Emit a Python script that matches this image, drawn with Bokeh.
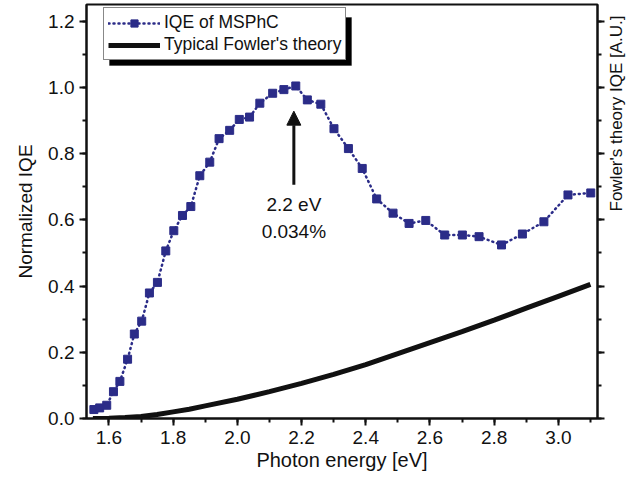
from bokeh.plotting import figure
from bokeh.models import (Range1d, LinearAxis, SingleIntervalTicker, NumeralTickFormatter,
                          Legend, LegendItem, Arrow, NormalHead, Label, CustomLabelingPolicy,
                          BoxAnnotation)
from bokeh.embed import file_html
from bokeh.resources import INLINE

# ---- data ----
energy_iqe = [1.553, 1.571, 1.593, 1.614, 1.634, 1.658, 1.679, 1.702, 1.726, 1.751,
              1.777, 1.802, 1.829, 1.855, 1.883, 1.914, 1.943, 1.976, 2.006, 2.038,
              2.070, 2.110, 2.145, 2.182, 2.218, 2.260, 2.301, 2.346, 2.389, 2.434,
              2.485, 2.535, 2.587, 2.646, 2.701, 2.753, 2.823, 2.888, 2.955, 3.030, 3.101]
iqe = [0.027, 0.032, 0.040, 0.081, 0.112, 0.179, 0.255, 0.294, 0.379, 0.411,
       0.506, 0.567, 0.613, 0.640, 0.733, 0.774, 0.845, 0.870, 0.903, 0.910,
       0.952, 0.982, 0.993, 1.004, 0.962, 0.949, 0.875, 0.815, 0.755, 0.663,
       0.620, 0.589, 0.598, 0.554, 0.554, 0.549, 0.524, 0.557, 0.594, 0.675, 0.681]

energy_fowler = [1.55, 1.60, 1.65, 1.70, 1.75, 1.80, 1.85, 1.90, 2.00, 2.10,
                 2.20, 2.30, 2.40, 2.50, 2.60, 2.70, 2.80, 2.90, 3.00, 3.10]
fowler = [0.000, 0.001, 0.003, 0.006, 0.012, 0.020, 0.028, 0.038, 0.058, 0.081,
          0.106, 0.133, 0.163, 0.196, 0.229, 0.262, 0.297, 0.333, 0.369, 0.405]

series_labels = ["IQE of MSPhC", "Typical Fowler's theory"]
peak_energy = 2.176
arrow_from, arrow_to = 0.706, 0.928
peak_texts = ["2.2 eV", "0.034%"]
peak_text_y = [0.645, 0.564]

FONT = "Liberation Sans"
BLUE = "#2b2c88"
INK = "#111111"

p = figure(width=639, height=480, output_backend="svg", toolbar_location=None,
           x_range=Range1d(1.53, 3.122), y_range=Range1d(0, 1.25),
           min_border_left=86, min_border_right=42, min_border_top=4, min_border_bottom=62,
           x_axis_label="Photon energy [eV]", y_axis_label="Normalized IQE")
p.xgrid.visible = False
p.ygrid.visible = False
p.outline_line_color = INK
p.outline_line_width = 2
p.background_fill_color = "white"
p.border_fill_color = "white"

def style_axis(ax, interval):
    ax.ticker = SingleIntervalTicker(interval=interval, num_minor_ticks=2)
    ax.formatter = NumeralTickFormatter(format="0.0")
    ax.axis_line_width = 2
    ax.axis_line_color = INK
    ax.major_tick_line_width = 2
    ax.minor_tick_line_width = 2
    ax.major_tick_line_color = INK
    ax.minor_tick_line_color = INK
    ax.major_tick_in = 0
    ax.major_tick_out = 7
    ax.minor_tick_in = 0
    ax.minor_tick_out = 4
    ax.major_label_text_font = FONT
    ax.major_label_text_font_size = "19px"
    ax.major_label_text_color = INK
    ax.axis_label_text_font = FONT
    ax.axis_label_text_font_size = "19px"
    ax.axis_label_text_font_style = "normal"
    ax.axis_label_text_color = INK

style_axis(p.xaxis[0], 0.2)
style_axis(p.yaxis[0], 0.2)
p.xaxis[0].axis_label_text_font_size = "20px"
p.xaxis[0].axis_label_standoff = 2
p.yaxis[0].axis_label_standoff = 9

right = LinearAxis(axis_label="Fowler's theory IQE [A.U.]")
style_axis(right, 0.2)
right.axis_label_text_font_size = "17px"
right.major_label_text_font_size = "0px"
right.major_label_standoff = 0
right.axis_label_standoff = 12
right.major_label_policy = CustomLabelingPolicy(
    code="for (const i of Array.from(indices)) indices.unset(i); return indices")
if "axis_label_orientation" in right.properties():
    right.axis_label_orientation = 1.5708
p.add_layout(right, "right")

# ---- data marks ----
r_dots = p.line(energy_iqe, iqe, line_color=BLUE, line_width=2.5, line_dash="1 4", line_cap="round")
r_sq = p.scatter(energy_iqe, iqe, marker="square", size=8, fill_color=BLUE, line_color=BLUE)
r_fw = p.line(energy_fowler, fowler, line_color=INK, line_width=5)

# ---- annotation ----
p.add_layout(Arrow(end=NormalHead(size=14, fill_color=INK, line_color=INK),
                   x_start=peak_energy, y_start=arrow_from, x_end=peak_energy, y_end=arrow_to,
                   line_width=3, line_color=INK))
for t, yy in zip(peak_texts, peak_text_y):
    p.add_layout(Label(x=peak_energy, y=yy, text=t, text_align="center", text_baseline="middle",
                       text_font=FONT, text_font_size="19px", text_color=INK))

# ---- legend with drop shadow ----
p.add_layout(BoxAnnotation(left=1.6017, right=2.3556, top=1.2107, bottom=1.0658,
                           fill_color="black", fill_alpha=1.0, line_color="black"))
items = [LegendItem(label=series_labels[0], renderers=[r_dots, r_sq]),
         LegendItem(label=series_labels[1], renderers=[r_fw])]
legend = Legend(items=items, location=(17, 358), orientation="vertical",
                label_text_font=FONT, label_text_font_size="17.5px", label_text_color=INK,
                label_height=18, glyph_height=18, glyph_width=52, label_standoff=4,
                spacing=1, padding=4, margin=0,
                border_line_color=INK, border_line_width=1.5,
                background_fill_color="white", background_fill_alpha=1.0)
p.add_layout(legend)

open("out.html", "w").write(file_html(p, INLINE))
